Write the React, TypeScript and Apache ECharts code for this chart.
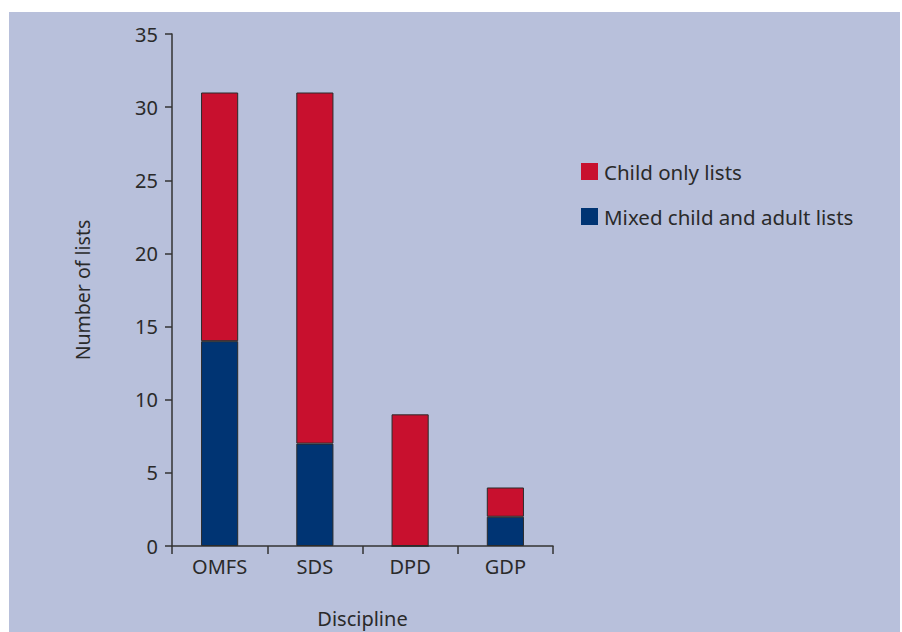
import React, { useEffect, useRef } from "react";
import * as echarts from "echarts";

const categories = ["OMFS", "SDS", "DPD", "GDP"];
const mixedLists = [14, 7, 0, 2];
const childOnlyLists = [17, 24, 9, 2];
const yMin = 0;
const yMax = 35;
const yInterval = 5;

export default function App() {
  const ref = useRef<HTMLDivElement>(null);
  useEffect(() => {
    if (!ref.current) return;
    const chart = echarts.init(ref.current, null, { renderer: "svg" });
    const font = "Noto Sans";
    chart.setOption({
      animation: false,
      backgroundColor: "#ffffff",
      textStyle: { fontFamily: font },
      graphic: [
        {
          type: "rect",
          z: -10,
          silent: true,
          shape: { x: 9, y: 12, width: 891, height: 630 },
          style: { fill: "#b8c0db" },
        },
      ],
      legend: {
        orient: "vertical",
        left: 581,
        top: 161,
        padding: 0,
        itemWidth: 17,
        itemHeight: 17,
        itemGap: 24,
        icon: "rect",
        data: [
          { name: "Child only lists", itemStyle: { borderWidth: 0 } },
          { name: "Mixed child and adult lists", itemStyle: { borderWidth: 0 } },
        ],
        textStyle: { fontFamily: font, fontSize: 20.5, lineHeight: 17, color: "#2a2a2a", padding: [0, 0, 0, 1] },
      },
      grid: { left: 172, top: 34, right: 349, bottom: 86, containLabel: false, outerBoundsMode: "none" },
      xAxis: {
        type: "category",
        data: categories,
        name: "Discipline",
        nameLocation: "middle",
        nameGap: 62,
        nameTextStyle: { fontFamily: font, fontSize: 20, color: "#2a2a2a" },
        axisLine: { lineStyle: { color: "#333333", width: 1.5 } },
        axisTick: { show: true, length: 8, inside: false, lineStyle: { color: "#333333", width: 1.5 } },
        axisLabel: { fontFamily: font, fontSize: 20, color: "#2a2a2a", margin: 10 },
      },
      yAxis: {
        type: "value",
        min: yMin,
        max: yMax,
        interval: yInterval,
        name: "Number of lists",
        nameLocation: "middle",
        nameGap: 80,
        nameRotate: 90,
        nameTextStyle: { fontFamily: font, fontSize: 19.5, color: "#2a2a2a" },
        splitLine: { show: false },
        axisLine: { show: true, lineStyle: { color: "#333333", width: 1.5 } },
        axisTick: { show: true, length: 7, lineStyle: { color: "#333333", width: 1.5 } },
        axisLabel: { fontFamily: font, fontSize: 20, color: "#2a2a2a", margin: 14 },
      },
      series: [
        {
          name: "Mixed child and adult lists",
          type: "bar",
          stack: "total",
          barWidth: "39%",
          data: mixedLists,
          itemStyle: { color: "#003473", borderColor: "#2b2b2b", borderWidth: 1 },
        },
        {
          name: "Child only lists",
          type: "bar",
          stack: "total",
          barWidth: "39%",
          data: childOnlyLists,
          itemStyle: { color: "#c8102e", borderColor: "#2b2b2b", borderWidth: 1 },
        },
      ],
    });
    return () => chart.dispose();
  }, []);
  return (
    <div
      ref={ref}
      style={{ position: "fixed", left: 0, top: 0, width: 902, height: 632 }}
    />
  );
}
